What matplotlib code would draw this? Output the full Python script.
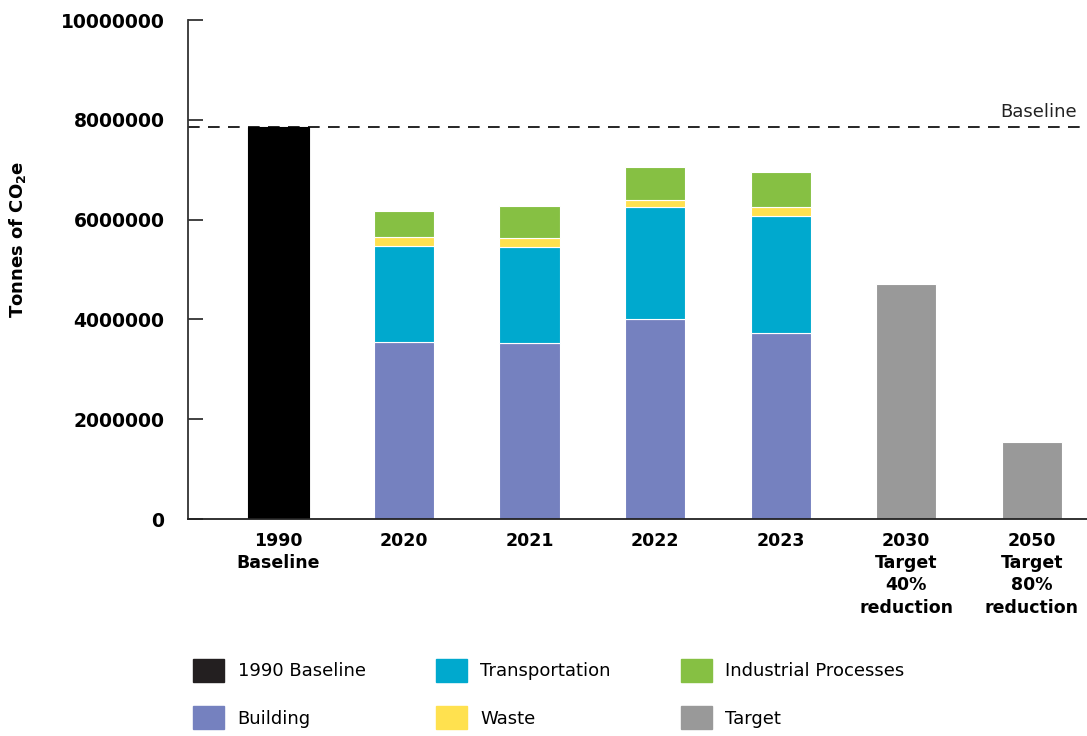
import numpy as np
import matplotlib
matplotlib.use("Agg")
import matplotlib.pyplot as plt
from matplotlib.patches import Patch

plt.rcParams['font.family'] = ['DejaVu Sans']

# emissions in tonnes CO2e
categories = ["1990\nBaseline", "2020", "2021", "2022", "2023",
              "2030\nTarget\n40%\nreduction", "2050\nTarget\n80%\nreduction"]
baseline = 7860000
years = ["2020", "2021", "2022", "2023"]
building = [3550000, 3520000, 4000000, 3730000]
transportation = [1920000, 1940000, 2250000, 2350000]
waste = [180000, 180000, 140000, 180000]
industrial = [520000, 630000, 660000, 700000]
targets = [4700000, 1550000]

c_base = "#000000"
c_build = "#7581bf"
c_trans = "#00a9ce"
c_waste = "#ffe14f"
c_ind = "#86c043"
c_target = "#999999"

fig = plt.figure(figsize=(10.87, 7.36), dpi=100)
ax = fig.add_axes([0.173, 0.2948, 0.827, 0.678])

x = np.arange(len(categories))
w = 0.48
ec = dict(edgecolor="white", linewidth=0.8)

ax.bar(x[0], baseline, w, color=c_base, edgecolor=c_base, linewidth=0.8)

xs = x[1:5]
b = np.zeros(4)
for vals, col in [(building, c_build), (transportation, c_trans),
                  (waste, c_waste), (industrial, c_ind)]:
    ax.bar(xs, vals, w, bottom=b, color=col, **ec)
    b = b + np.array(vals)

ax.bar(x[5:], targets, w, color=c_target, **ec)

# baseline reference line
ax.axhline(baseline, color="black", linestyle=(0, (7, 5)), linewidth=1.2, zorder=0)
ax.text(6.36, baseline + 120000, "Baseline", ha="right", va="bottom", fontsize=13, color="#222222")

ax.set_xlim(-0.72, 6.44)
ax.set_ylim(0, 10000000)
ax.set_yticks([0, 2000000, 4000000, 6000000, 8000000, 10000000])
ax.set_yticklabels(["0", "2000000", "4000000", "6000000", "8000000", "10000000"],
                   fontweight="bold", fontsize=13.5)
ax.tick_params(axis="y", direction="in", length=11, width=1.3, pad=17, color="#333333")
ax.set_xticks(x)
ax.set_xticklabels(categories, fontweight="bold", fontsize=12.5, linespacing=1.32)
ax.tick_params(axis="x", length=0, pad=9)

for s in ["top", "right"]:
    ax.spines[s].set_visible(False)
ax.spines["left"].set_color("#333333")
ax.spines["left"].set_linewidth(1.3)
ax.spines["bottom"].set_color("#222222")
ax.spines["bottom"].set_linewidth(1.3)

ax.set_ylabel(r"Tonnes of CO$_\mathbf{2}$e", fontweight="bold", fontsize=13)
ax.yaxis.set_label_coords(-0.178, 0.56)

handles = [Patch(color="#231f20", label="1990 Baseline"),
           Patch(color=c_build, label="Building"),
           Patch(color=c_trans, label="Transportation"),
           Patch(color=c_waste, label="Waste"),
           Patch(color=c_ind, label="Industrial Processes"),
           Patch(color=c_target, label="Target")]
fig.legend(handles=handles, ncol=3, loc="lower left", bbox_to_anchor=(0.163, -0.013),
           frameon=False, fontsize=13, handlelength=1.7, handleheight=1.6,
           handletextpad=0.75, columnspacing=3.9, labelspacing=1.35)

fig.savefig("out.png", dpi=100)
